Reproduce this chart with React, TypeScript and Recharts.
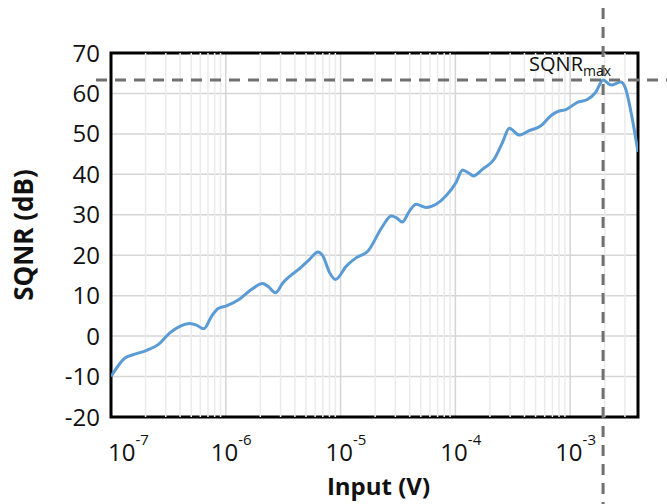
import React from 'react'
import {
  LineChart, Line, XAxis, YAxis, CartesianGrid, ReferenceLine, ReferenceArea, ReferenceDot,
} from 'recharts'

const W = 667
const H = 504
const FONT = '"Open Sans", sans-serif'

// input amplitude (V) and measured SQNR (dB)
const inputV = [
  1.0e-7, 1.324e-7, 1.563e-7, 2.042e-7, 2.576e-7, 3.258e-7, 3.981e-7, 4.864e-7, 5.559e-7, 6.427e-7,
  7.516e-7, 8.57e-7, 1.014e-6, 1.324e-6, 1.671e-6, 2.084e-6, 2.333e-6, 2.704e-6, 3.148e-6, 3.606e-6,
  4.395e-6, 5.37e-6, 6.353e-6, 7.015e-6, 8.017e-6, 9.057e-6, 1.122e-5, 1.371e-5, 1.726e-5, 2.328e-5,
  2.761e-5, 3.048e-5, 3.443e-5, 3.981e-5, 4.55e-5, 5.559e-5, 6.792e-5, 8.299e-5, 1.014e-4, 1.156e-4,
  1.324e-4, 1.435e-4, 1.73e-4, 2.183e-4, 2.576e-4, 2.951e-4, 3.606e-4, 4.395e-4, 5.559e-4, 6.792e-4,
  7.762e-4, 9.183e-4, 1.156e-3, 1.413e-3, 1.671e-3, 1.936e-3, 2.275e-3, 2.761e-3, 3.048e-3, 3.373e-3,
  3.9e-3,
]
const sqnrDb = [
  -10.0, -5.4, -4.6, -3.5, -2.1, 0.8, 2.4, 3.1, 2.7, 1.8,
  4.9, 6.8, 7.5, 9.2, 11.5, 13.0, 12.3, 10.7, 13.2, 14.8,
  16.7, 19.0, 20.8, 19.8, 15.7, 14.0, 17.3, 19.4, 21.0, 27.2,
  29.7, 29.3, 28.2, 30.9, 32.6, 31.8, 32.6, 34.7, 38.0, 41.1,
  40.2, 39.6, 41.3, 43.8, 47.9, 51.4, 49.7, 50.8, 52.0, 54.5,
  55.5, 56.0, 57.8, 58.5, 60.3, 63.3, 62.1, 62.8, 61.1, 55.7,
  45.5,
]

const xDomain = [1e-7, 3.9e-3]
const xTicks = [1e-7, 1e-6, 1e-5, 1e-4, 1e-3]
const yTicks = [-20, -10, 0, 10, 20, 30, 40, 50, 60, 70]
const minorSteps = [2, 3, 4, 5, 6, 7, 8, 9]

const data = inputV.map((v, i) => ({ input: v, sqnr: sqnrDb[i] }))

const peakIdx = sqnrDb.indexOf(Math.max(...sqnrDb))
const peakInput = inputV[peakIdx]
const sqnrMax = sqnrDb[peakIdx]

// light gridlines at 2..9 x each decade
const minorTicks = xTicks
  .flatMap((d) => minorSteps.map((m) => m * d))
  .filter((v) => v < xDomain[1])

const XTick = (props: any) => {
  const { x, y, payload, index } = props
  const exp = Math.round(Math.log10(payload.value))
  return (
    <text x={x + (index === 0 ? -3 : -15)} y={y + 44} fontSize={24} fill="#111" fontFamily={FONT}>
      10
      <tspan dy={-16} fontSize={15}>{String(exp)}</tspan>
    </text>
  )
}

const YTitle = (props: any) => {
  const vb = props.viewBox
  const cx = 33
  const cy = vb.y + vb.height / 2
  return (
    <text
      x={cx}
      y={cy}
      transform={`rotate(-90 ${cx} ${cy})`}
      textAnchor="middle"
      fontSize={26}
      fontWeight={700}
      fill="#111"
      fontFamily={FONT}
    >
      SQNR (dB)
    </text>
  )
}

const XTitle = (props: any) => {
  const vb = props.viewBox
  return (
    <text
      x={vb.x + vb.width / 2 + 4}
      y={vb.y + 78}
      textAnchor="middle"
      fontSize={24}
      fontWeight={700}
      fill="#111"
      fontFamily={FONT}
    >
      Input (V)
    </text>
  )
}

const dash = { stroke: '#707070', strokeWidth: 3, strokeDasharray: '11 8' }

export default function App() {
  return (
    <div style={{ position: 'absolute', left: 0, top: 0, width: W, height: H, background: '#fff' }}>
      <LineChart width={W} height={H} data={data} margin={{ top: 53, right: 29, bottom: 0, left: 0 }}>
        {minorTicks.map((v) => (
          <ReferenceLine key={v} x={v} stroke="#ebebeb" strokeWidth={1.5} />
        ))}
        <CartesianGrid stroke="#d5d5d5" strokeWidth={1.5} />
        <XAxis
          dataKey="input"
          type="number"
          scale="log"
          domain={xDomain}
          ticks={xTicks}
          allowDataOverflow
          axisLine={false}
          tickLine={false}
          tickSize={0}
          tickMargin={0}
          height={87}
          tick={<XTick />}
          label={{ content: <XTitle /> }}
        />
        <YAxis
          type="number"
          domain={[-20, 70]}
          ticks={yTicks}
          width={111}
          axisLine={false}
          tickLine={false}
          tickSize={0}
          tickMargin={11}
          tick={{ fill: '#111', fontSize: 24, fontFamily: FONT }}
          label={{ content: <YTitle /> }}
        />
        <Line
          type="monotone"
          dataKey="sqnr"
          stroke="#5b9bd5"
          strokeWidth={3}
          dot={false}
          isAnimationActive={false}
        />
        <ReferenceArea
          x1={xDomain[0]}
          x2={xDomain[1]}
          y1={-20}
          y2={70}
          fill="none"
          stroke="#000"
          strokeWidth={3}
        />
        <ReferenceLine
          y={sqnrMax}
          shape={(p: any) => <line x1={p.x1 - 15} y1={p.y1} x2={W} y2={p.y2} {...dash} />}
        />
        <ReferenceLine
          x={peakInput}
          shape={(p: any) => (
            <line x1={p.x1} y1={Math.min(p.y1, p.y2) - 45} x2={p.x2} y2={H} {...dash} />
          )}
        />
        <ReferenceDot
          x={peakInput}
          y={sqnrMax}
          r={0}
          shape={(p: any) => (
            <text x={p.cx + 8} y={p.cy - 9} textAnchor="end" fontSize={20} fill="#111" fontFamily={FONT}>
              SQNR
              <tspan dy={5} fontSize={14}>max</tspan>
            </text>
          )}
        />
      </LineChart>
    </div>
  )
}
